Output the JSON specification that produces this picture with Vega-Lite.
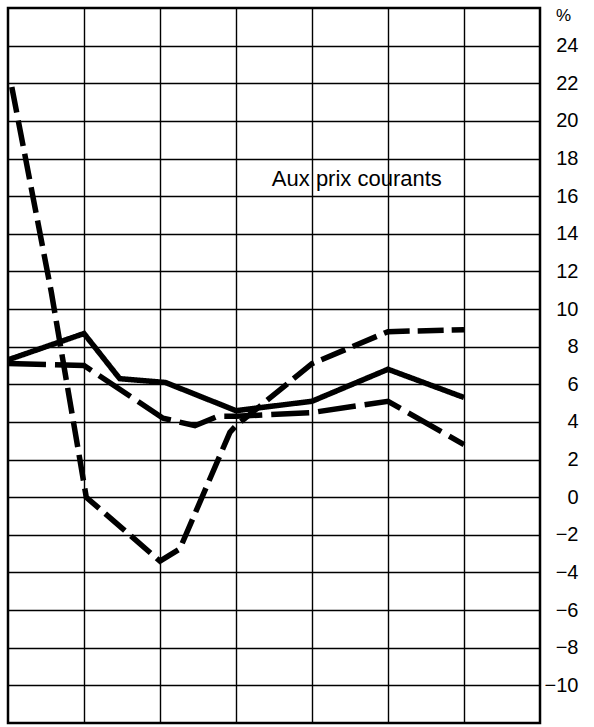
{
  "$schema": "https://vega.github.io/schema/vega-lite/v6.json",
  "width": 532,
  "height": 715,
  "autosize": {"type": "none"},
  "padding": {"left": 8, "top": 8, "right": 54, "bottom": 4},
  "background": "white",
  "config": {
    "view": {"stroke": "#000", "strokeWidth": 2.5},
    "font": "Liberation Sans"
  },
  "datasets": {
    "series": [
      {"s": "A", "x": 0, "v": 7.3},
      {"s": "A", "x": 1, "v": 8.7},
      {"s": "A", "x": 1.47, "v": 6.3},
      {"s": "A", "x": 2.07, "v": 6.1},
      {"s": "A", "x": 3, "v": 4.6},
      {"s": "A", "x": 4, "v": 5.1},
      {"s": "A", "x": 5, "v": 6.8},
      {"s": "A", "x": 6, "v": 5.3},
      {"s": "B", "x": 0, "v": 7.1},
      {"s": "B", "x": 1, "v": 7.0},
      {"s": "B", "x": 2.04, "v": 4.2},
      {"s": "B", "x": 2.46, "v": 3.8},
      {"s": "B", "x": 2.76, "v": 4.3},
      {"s": "B", "x": 3, "v": 4.3},
      {"s": "B", "x": 4, "v": 4.5},
      {"s": "B", "x": 5, "v": 5.1},
      {"s": "B", "x": 6, "v": 2.8},
      {"s": "C", "x": 0.05, "v": 21.8},
      {"s": "C", "x": 0.57, "v": 10.9},
      {"s": "C", "x": 1.03, "v": 0.0},
      {"s": "C", "x": 2, "v": -3.4},
      {"s": "C", "x": 2.26, "v": -2.75},
      {"s": "C", "x": 2.92, "v": 3.45},
      {"s": "C", "x": 3, "v": 3.8},
      {"s": "C", "x": 4, "v": 7.1},
      {"s": "C", "x": 5, "v": 8.8},
      {"s": "C", "x": 6, "v": 8.9}
    ],
    "notes": [
      {"x": 4.59, "v": 16.9, "label": "Aux prix courants"}
    ]
  },
  "layer": [
    {
      "data": {"name": "series"},
      "mark": {"type": "line", "color": "#000", "strokeWidth": 5.5, "strokeCap": "butt", "strokeJoin": "miter"},
      "encoding": {
        "x": {
          "field": "x", "type": "quantitative",
          "scale": {"domain": [0, 7], "nice": false, "zero": false},
          "axis": {"values": [1, 2, 3, 4, 5, 6], "grid": true, "gridColor": "#000", "gridWidth": 1.4, "gridOpacity": 1, "labels": false, "ticks": false, "domain": false, "title": null}
        },
        "y": {
          "field": "v", "type": "quantitative",
          "scale": {"domain": [-12, 26], "nice": false, "zero": false},
          "axis": {
            "orient": "right",
            "values": [-10, -8, -6, -4, -2, 0, 2, 4, 6, 8, 10, 12, 14, 16, 18, 20, 22, 24],
            "grid": true, "gridColor": "#000", "gridWidth": 1.4, "gridOpacity": 1,
            "ticks": false, "domain": false,
            "labelAlign": "right", "labelBaseline": "middle", "labelPadding": 38,
            "labelFontSize": 20, "labelColor": "#000", "labelFont": "Liberation Sans",
            "title": "%", "titleAngle": 0, "titleAlign": "center", "titleBaseline": "middle",
            "titleX": 23, "titleY": 7, "titleFontSize": 17, "titleFontWeight": "normal", "titleColor": "#000", "titleFont": "Liberation Sans"
          }
        },
        "detail": {"field": "s"},
        "strokeDash": {
          "field": "s", "type": "nominal",
          "scale": {"domain": ["A", "B", "C"], "range": [[1, 0], [38, 9], [26, 8]]},
          "legend": null
        }
      }
    },
    {
      "data": {"name": "notes"},
      "mark": {"type": "text", "fontSize": 22, "font": "Liberation Sans", "color": "#000", "align": "center", "baseline": "middle"},
      "encoding": {
        "x": {"field": "x", "type": "quantitative"},
        "y": {"field": "v", "type": "quantitative"},
        "text": {"field": "label"}
      }
    }
  ]
}
